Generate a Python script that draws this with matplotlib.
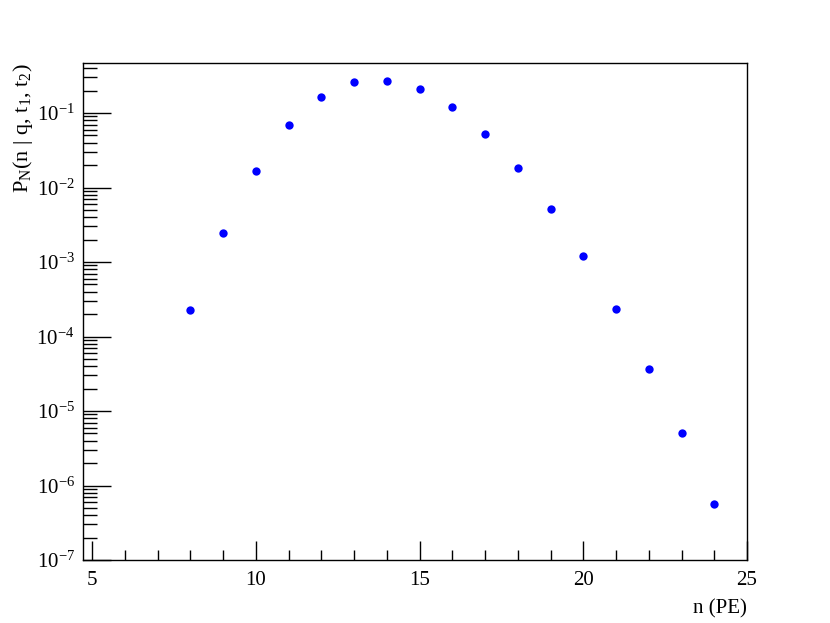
import numpy as np
import matplotlib
matplotlib.use('Agg')
import matplotlib.pyplot as plt
from matplotlib.ticker import LogLocator, MultipleLocator, NullFormatter

plt.rcParams['font.family'] = ['Liberation Serif', 'DejaVu Serif']
plt.rcParams['mathtext.fontset'] = 'custom'
plt.rcParams['mathtext.rm'] = 'Liberation Serif'
plt.rcParams['mathtext.it'] = 'Liberation Serif:italic'

# n (photo-electrons) and probability
n_pe = [8, 9, 10, 11, 12, 13, 14, 15, 16, 17, 18, 19, 20, 21, 22, 23, 24]
prob = [2.27e-4, 2.45e-3, 1.67e-2, 6.9e-2, 0.164, 0.258, 0.272, 0.208, 0.12,
        5.2e-2, 1.83e-2, 5.1e-3, 1.2e-3, 2.34e-4, 3.66e-5, 5.07e-6, 5.6e-7]

fig = plt.figure(figsize=(8.30, 6.23), dpi=100)
ax = fig.add_axes([83 / 830, 1 - 560 / 623, (747 - 83) / 830, (560 - 63) / 623])

ax.plot(n_pe, prob, 'o', color='#0000ff', markersize=6, markeredgewidth=0)

ax.set_yscale('log')
ax.set_xlim(4.72, 25)
ax.set_ylim(1e-7, 0.469)

ax.xaxis.set_major_locator(MultipleLocator(5))
ax.xaxis.set_minor_locator(MultipleLocator(1))
ax.yaxis.set_major_locator(LogLocator(base=10, numticks=20))
ax.yaxis.set_minor_locator(LogLocator(base=10, subs=np.arange(2, 10), numticks=20))
ax.yaxis.set_minor_formatter(NullFormatter())

ax.tick_params(axis='both', which='both', direction='in', labelsize=15,
               top=False, right=False, width=1.0)
ax.tick_params(axis='x', which='major', length=14, pad=8)
ax.tick_params(axis='x', which='minor', length=7)
ax.tick_params(axis='y', which='major', length=20, pad=6)
ax.tick_params(axis='y', which='minor', length=10)

for sp in ax.spines.values():
    sp.set_linewidth(1.0)

ax.set_xlabel('n (PE)', fontsize=15)
ax.xaxis.set_label_coords(1.0, -0.078)
ax.xaxis.label.set_horizontalalignment('right')

ax.set_ylabel(r'P$_{\mathregular{N}}$(n | q, t$_{\mathregular{1}}$, t$_{\mathregular{2}}$)', fontsize=16)
ax.yaxis.set_label_coords(-0.072, 1.0)
ax.yaxis.label.set_horizontalalignment('right')

fig.savefig('out.png', dpi=100)
